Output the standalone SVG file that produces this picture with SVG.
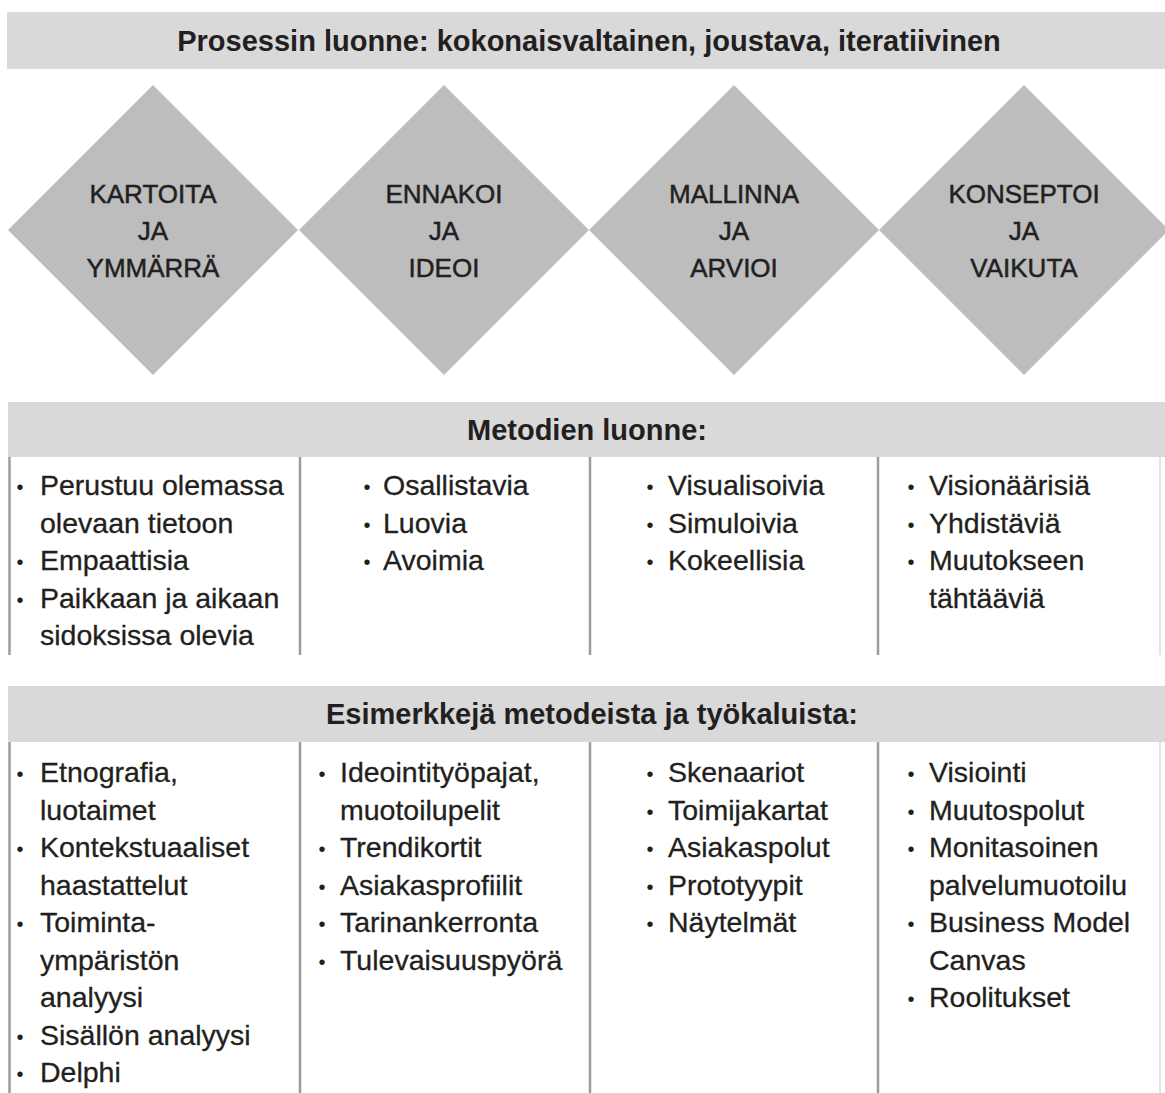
<svg xmlns="http://www.w3.org/2000/svg" width="1165" height="1093" viewBox="0 0 1165 1093">
  <style>
    text { font-family: "Liberation Sans", Arial, sans-serif; fill: #231f20; }
    .band { fill: #d9d9d9; }
    .dia { fill: #bdbdbd; }
    .rule { stroke: #9c9c9c; stroke-width: 2.5; fill: none; }
    .rule-faint { stroke: #e4e4e4; stroke-width: 2; fill: none; }
    .h { font-size: 29px; font-weight: bold; text-anchor: middle; }
    .d { font-size: 26px; text-anchor: middle; stroke: #231f20; stroke-width: 0.5; }
    .t { font-size: 28.5px; stroke: #231f20; stroke-width: 0.3; }
    .b { font-size: 20px; text-anchor: middle; }
  </style>

  <rect width="1165" height="1093" fill="#ffffff"/>

  <!-- Process banner -->
  <g id="process-banner">
    <rect class="band" x="7" y="12" width="1158" height="57"/>
    <text class="h" x="589" y="51">Prosessin luonne: kokonaisvaltainen, joustava, iteratiivinen</text>
  </g>

  <!-- Four phase diamonds -->
  <g id="phase-kartoita">
    <polygon class="dia" points="153,85 298,230 153,375 8,230"/>
    <text class="d" x="153" y="203">KARTOITA</text>
    <text class="d" x="153" y="240">JA</text>
    <text class="d" x="153" y="277">YMMÄRRÄ</text>
  </g>
  <g id="phase-ennakoi">
    <polygon class="dia" points="444,85 589,230 444,375 299,230"/>
    <text class="d" x="444" y="203">ENNAKOI</text>
    <text class="d" x="444" y="240">JA</text>
    <text class="d" x="444" y="277">IDEOI</text>
  </g>
  <g id="phase-mallinna">
    <polygon class="dia" points="734,85 879,230 734,375 589,230"/>
    <text class="d" x="734" y="203">MALLINNA</text>
    <text class="d" x="734" y="240">JA</text>
    <text class="d" x="734" y="277">ARVIOI</text>
  </g>
  <g id="phase-konseptoi">
    <polygon class="dia" points="1024,85 1169,230 1024,375 879,230"/>
    <text class="d" x="1024" y="203">KONSEPTOI</text>
    <text class="d" x="1024" y="240">JA</text>
    <text class="d" x="1024" y="277">VAIKUTA</text>
  </g>

  <!-- Method character table -->
  <g id="methods-header">
    <rect class="band" x="8" y="402" width="1157" height="55"/>
    <text class="h" x="587" y="440">Metodien luonne:</text>
  </g>
  <g id="methods-grid">
    <line class="rule" x1="9.5" y1="457" x2="9.5" y2="655"/>
    <line class="rule" x1="300" y1="457" x2="300" y2="655"/>
    <line class="rule" x1="590" y1="457" x2="590" y2="655"/>
    <line class="rule" x1="878" y1="457" x2="878" y2="655"/>
    <line class="rule-faint" x1="1160" y1="457" x2="1160" y2="655"/>
  </g>
  <g id="methods-col1">
    <text class="b" x="20" y="494">•</text>
    <text class="t" x="40" y="495">Perustuu olemassa</text>
    <text class="t" x="40" y="532.5">olevaan tietoon</text>
    <text class="b" x="20" y="569">•</text>
    <text class="t" x="40" y="570">Empaattisia</text>
    <text class="b" x="20" y="606.5">•</text>
    <text class="t" x="40" y="607.5">Paikkaan ja aikaan</text>
    <text class="t" x="40" y="645">sidoksissa olevia</text>
  </g>
  <g id="methods-col2">
    <text class="b" x="367" y="494">•</text>
    <text class="t" x="383" y="495">Osallistavia</text>
    <text class="b" x="367" y="531.5">•</text>
    <text class="t" x="383" y="532.5">Luovia</text>
    <text class="b" x="367" y="569">•</text>
    <text class="t" x="383" y="570">Avoimia</text>
  </g>
  <g id="methods-col3">
    <text class="b" x="650" y="494">•</text>
    <text class="t" x="668" y="495">Visualisoivia</text>
    <text class="b" x="650" y="531.5">•</text>
    <text class="t" x="668" y="532.5">Simuloivia</text>
    <text class="b" x="650" y="569">•</text>
    <text class="t" x="668" y="570">Kokeellisia</text>
  </g>
  <g id="methods-col4">
    <text class="b" x="911" y="494">•</text>
    <text class="t" x="929" y="495">Visionäärisiä</text>
    <text class="b" x="911" y="531.5">•</text>
    <text class="t" x="929" y="532.5">Yhdistäviä</text>
    <text class="b" x="911" y="569">•</text>
    <text class="t" x="929" y="570">Muutokseen</text>
    <text class="t" x="929" y="607.5">tähtääviä</text>
  </g>

  <!-- Examples of methods and tools -->
  <g id="examples-header">
    <rect class="band" x="8" y="686" width="1157" height="56"/>
    <text class="h" x="592" y="724">Esimerkkejä metodeista ja työkaluista:</text>
  </g>
  <g id="examples-grid">
    <line class="rule" x1="9.5" y1="742" x2="9.5" y2="1093"/>
    <line class="rule" x1="300" y1="742" x2="300" y2="1093"/>
    <line class="rule" x1="590" y1="742" x2="590" y2="1093"/>
    <line class="rule" x1="878" y1="742" x2="878" y2="1093"/>
    <line class="rule-faint" x1="1160" y1="742" x2="1160" y2="1093"/>
  </g>
  <g id="examples-col1">
    <text class="b" x="20" y="781">•</text>
    <text class="t" x="40" y="782">Etnografia,</text>
    <text class="t" x="40" y="819.5">luotaimet</text>
    <text class="b" x="20" y="856">•</text>
    <text class="t" x="40" y="857">Kontekstuaaliset</text>
    <text class="t" x="40" y="894.5">haastattelut</text>
    <text class="b" x="20" y="931">•</text>
    <text class="t" x="40" y="932">Toiminta-</text>
    <text class="t" x="40" y="969.5">ympäristön</text>
    <text class="t" x="40" y="1007">analyysi</text>
    <text class="b" x="20" y="1043.5">•</text>
    <text class="t" x="40" y="1044.5">Sisällön analyysi</text>
    <text class="b" x="20" y="1081">•</text>
    <text class="t" x="40" y="1082">Delphi</text>
  </g>
  <g id="examples-col2">
    <text class="b" x="322" y="781">•</text>
    <text class="t" x="340" y="782">Ideointityöpajat,</text>
    <text class="t" x="340" y="819.5">muotoilupelit</text>
    <text class="b" x="322" y="856">•</text>
    <text class="t" x="340" y="857">Trendikortit</text>
    <text class="b" x="322" y="893.5">•</text>
    <text class="t" x="340" y="894.5">Asiakasprofiilit</text>
    <text class="b" x="322" y="931">•</text>
    <text class="t" x="340" y="932">Tarinankerronta</text>
    <text class="b" x="322" y="968.5">•</text>
    <text class="t" x="340" y="969.5">Tulevaisuuspyörä</text>
  </g>
  <g id="examples-col3">
    <text class="b" x="650" y="781">•</text>
    <text class="t" x="668" y="782">Skenaariot</text>
    <text class="b" x="650" y="818.5">•</text>
    <text class="t" x="668" y="819.5">Toimijakartat</text>
    <text class="b" x="650" y="856">•</text>
    <text class="t" x="668" y="857">Asiakaspolut</text>
    <text class="b" x="650" y="893.5">•</text>
    <text class="t" x="668" y="894.5">Prototyypit</text>
    <text class="b" x="650" y="931">•</text>
    <text class="t" x="668" y="932">Näytelmät</text>
  </g>
  <g id="examples-col4">
    <text class="b" x="911" y="781">•</text>
    <text class="t" x="929" y="782">Visiointi</text>
    <text class="b" x="911" y="818.5">•</text>
    <text class="t" x="929" y="819.5">Muutospolut</text>
    <text class="b" x="911" y="856">•</text>
    <text class="t" x="929" y="857">Monitasoinen</text>
    <text class="t" x="929" y="894.5">palvelumuotoilu</text>
    <text class="b" x="911" y="931">•</text>
    <text class="t" x="929" y="932">Business Model</text>
    <text class="t" x="929" y="969.5">Canvas</text>
    <text class="b" x="911" y="1006">•</text>
    <text class="t" x="929" y="1007">Roolitukset</text>
  </g>
</svg>
